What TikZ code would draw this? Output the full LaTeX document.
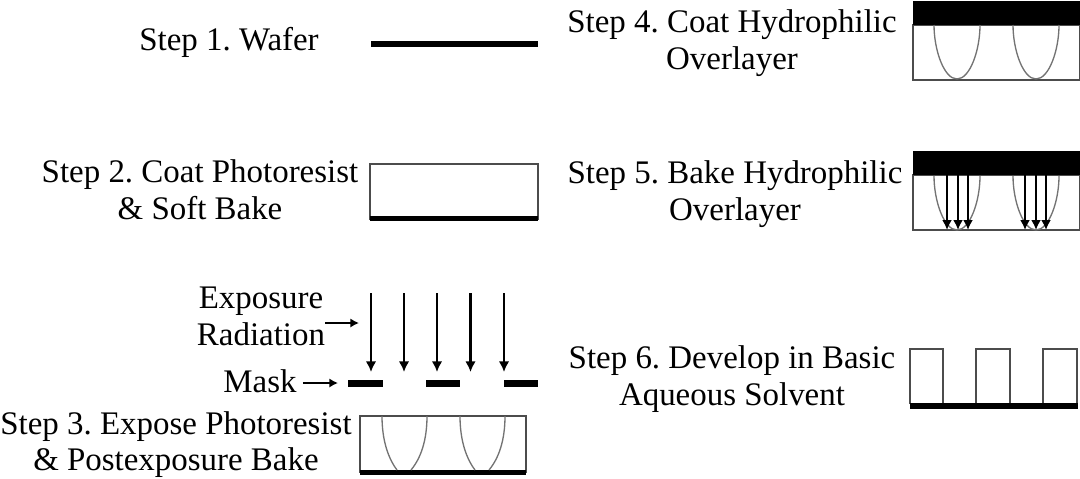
\documentclass[tikz,border=0pt]{standalone}
\usepackage{fontspec}
\setmainfont{Liberation Serif}
\frenchspacing
\usetikzlibrary{arrows.meta}
\tikzset{
    steplabel/.style={font=\fontsize{24.7}{27.5}\selectfont,align=center,inner sep=0pt},
    wall/.style={draw=black!70,line width=1.1pt},
    film/.style={fill=black,draw=none},
    curve/.style={draw=black!55,line width=1pt},
    ray/.style={-{Latex[length=8pt,width=8pt]},line width=1.6pt},
    small ray/.style={-{Latex[length=6.5pt,width=7pt]},line width=1.4pt},
    diff ray/.style={-{Latex[length=7.5pt,width=7.5pt]},line width=1.5pt}
}
\begin{document}
\begin{tikzpicture}[x=0.75pt,y=-0.75pt]
    \useasboundingbox (0,0) rectangle (1080,478);

    %testi
    \node[steplabel] (wafertext) at (229,42) {Step 1. Wafer};
    \node[steplabel] (coattext) at (200,190) {Step 2. Coat Photoresist\\\& Soft Bake};
    \node[steplabel] (exposuretext) at (261,316.5) {Exposure\\Radiation};
    \node[steplabel] (masktext) at (260,381) {Mask};
    \node[steplabel] (exposetext) at (176,444.5) {Step 3. Expose Photoresist\\\& Postexposure Bake};
    \node[steplabel] (overlaytext) at (732,43) {Step 4. Coat Hydrophilic\\Overlayer};
    \node[steplabel] (baketext) at (735,194) {Step 5. Bake Hydrophilic\\Overlayer};
    \node[steplabel] (developtext) at (732,379) {Step 6. Develop in Basic\\Aqueous Solvent};

    %step 1
    \fill[film] (371,41) rectangle (538,47);

    %step 2
    \draw[wall] (370,164) rectangle (538,219);
    \fill[film] (370,216) rectangle (538,221);

    %radiazione
    \foreach \x [count=\i] in {371,404,437,470.5,504}{
        \coordinate (raytop\i) at (\x,293);
        \coordinate (raytip\i) at (\x,372);
        \draw[ray] (raytop\i)--(raytip\i);
    }
    \coordinate (radiationtip) at (359,323);
    \coordinate (masktip) at (338,383);
    \draw[small ray] (exposuretext.east |- radiationtip)--(radiationtip);
    \draw[small ray] (masktext.east |- masktip)++(6,0)--(masktip);

    %maschera
    \fill[film] (347.5,380) rectangle (383,387);
    \fill[film] (426,380) rectangle (460,387);
    \fill[film] (504,380) rectangle (538,387);

    %step 3
    \draw[wall] (360,416) rectangle (526,472);
    \fill[film] (360,470) rectangle (526,475);
    \foreach \s in {0,78}{
        \begin{scope}[shift={(\s,0)}]
            \draw[curve] (382,416)..controls (382,440) and (388,458)..(397,470);
            \draw[curve] (427,416)..controls (427,440) and (421,458)..(411,470);
        \end{scope}
    }

    %step 4
    \draw[wall] (913,25) rectangle (1080,80);
    \fill[film] (913,1) rectangle (1080,25);
    \foreach \s in {0,79}{
        \begin{scope}[shift={(\s,0)}]
            \draw[curve] (934,25)..controls (934,50) and (944,79)..(957,79);
            \draw[curve] (980,25)..controls (980,50) and (970,79)..(957,79);
        \end{scope}
    }

    %step 5
    \draw[wall] (913,175) rectangle (1080,230);
    \fill[film] (913,151) rectangle (1080,175);
    \foreach \s in {0,79}{
        \begin{scope}[shift={(\s,151)}]
            \draw[curve] (934,25)..controls (934,50) and (944,79)..(957,79);
            \draw[curve] (980,25)..controls (980,50) and (970,79)..(957,79);
        \end{scope}
    }
    \foreach \x [count=\i] in {947,958,968,1025,1036,1046}{
        \coordinate (difftop\i) at (\x,175);
        \coordinate (difftip\i) at (\x,230);
        \draw[diff ray] (difftop\i)--(difftip\i);
    }

    %step 6
    \draw[wall] (910,404)--(910,349)--(943,349)--(943,404);
    \draw[wall] (976,404)--(976,349)--(1010,349)--(1010,404);
    \draw[wall] (1043,404)--(1043,349)--(1077,349)--(1077,404);
    \fill[film] (909.5,403) rectangle (1077.5,409);

\end{tikzpicture}
\end{document}
